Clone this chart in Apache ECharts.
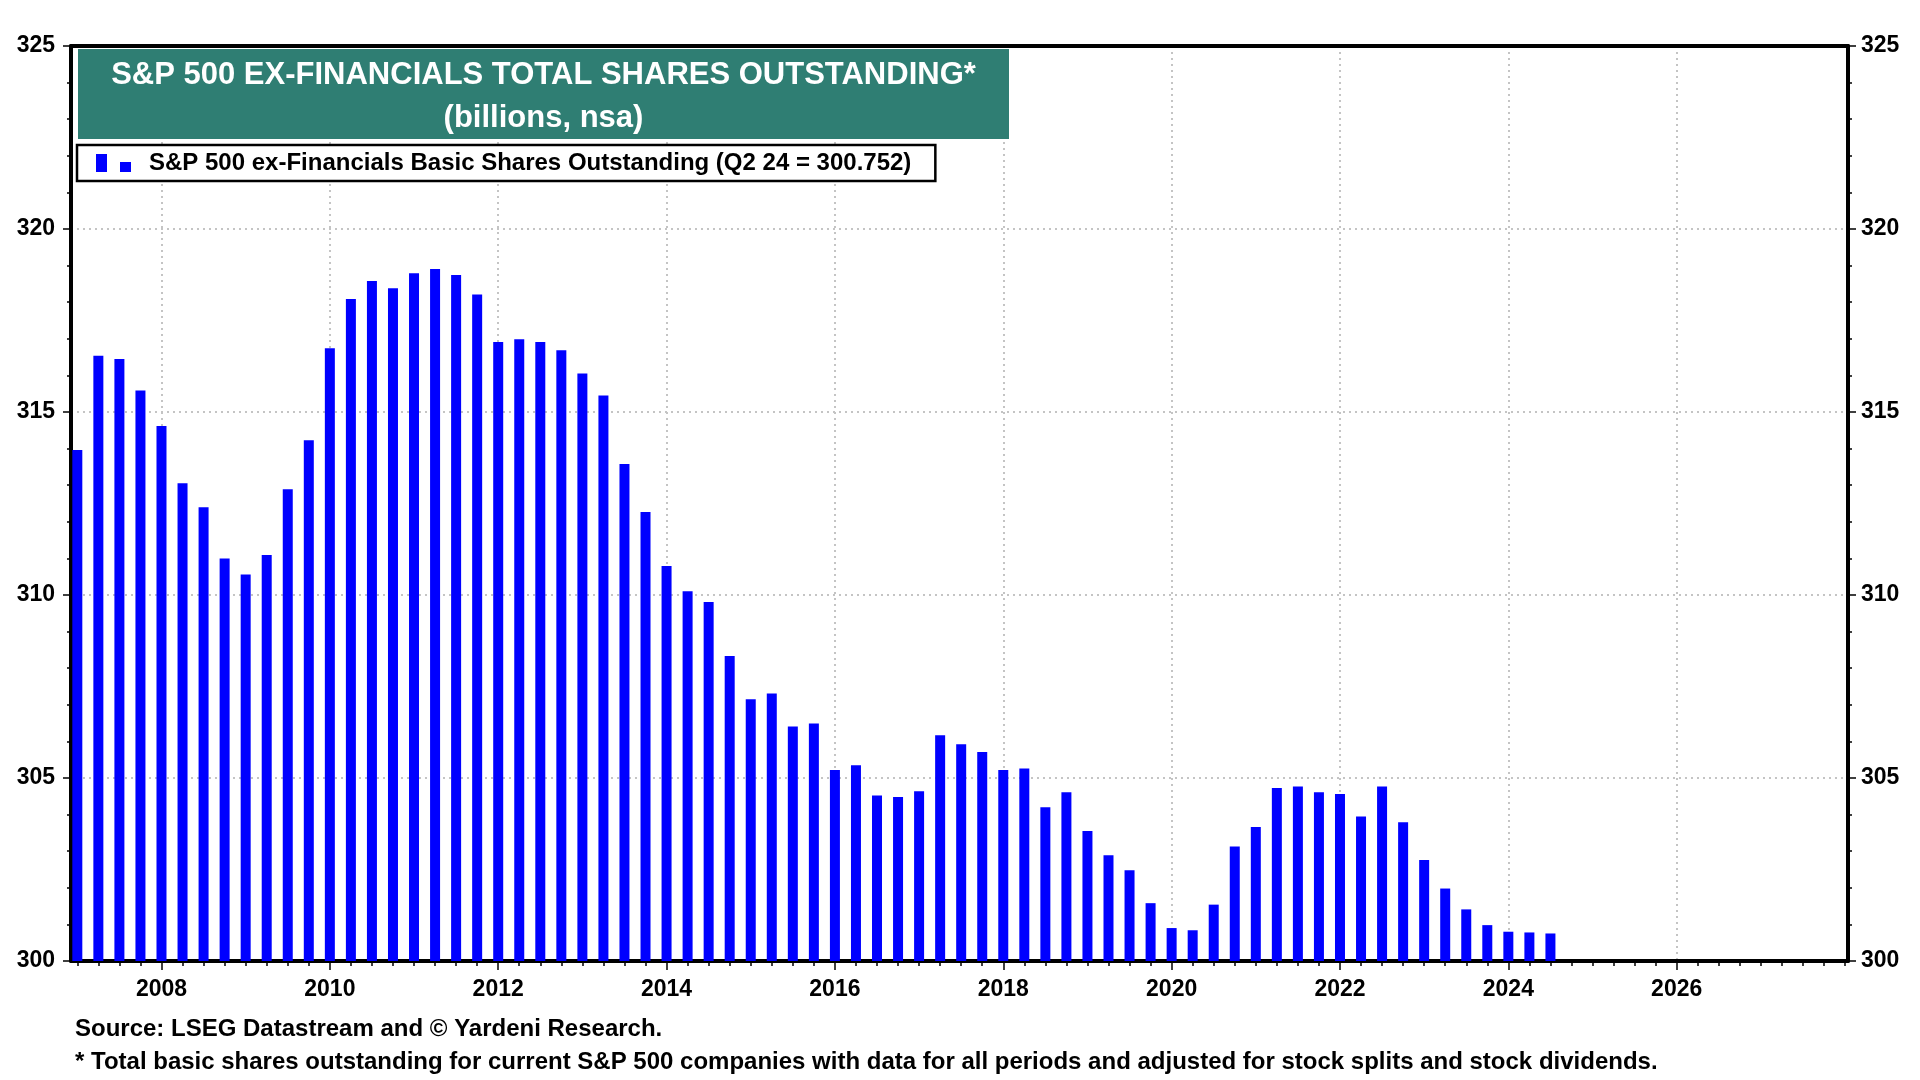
<!DOCTYPE html>
<html>
<head>
<meta charset="utf-8">
<script src="https://cdn.jsdelivr.net/npm/echarts@6/dist/echarts.min.js"></script>
<style>
html,body{margin:0;padding:0;background:#fff;}
#chart{width:1920px;height:1080px;}
</style>
</head>
<body>
<div id="chart"></div>
<script>
// ---- data (quarterly, plotted at quarter end) ----
const quarters = [
  'Q4 06',
  'Q1 07','Q2 07','Q3 07','Q4 07',
  'Q1 08','Q2 08','Q3 08','Q4 08',
  'Q1 09','Q2 09','Q3 09','Q4 09',
  'Q1 10','Q2 10','Q3 10','Q4 10',
  'Q1 11','Q2 11','Q3 11','Q4 11',
  'Q1 12','Q2 12','Q3 12','Q4 12',
  'Q1 13','Q2 13','Q3 13','Q4 13',
  'Q1 14','Q2 14','Q3 14','Q4 14',
  'Q1 15','Q2 15','Q3 15','Q4 15',
  'Q1 16','Q2 16','Q3 16','Q4 16',
  'Q1 17','Q2 17','Q3 17','Q4 17',
  'Q1 18','Q2 18','Q3 18','Q4 18',
  'Q1 19','Q2 19','Q3 19','Q4 19',
  'Q1 20','Q2 20','Q3 20','Q4 20',
  'Q1 21','Q2 21','Q3 21','Q4 21',
  'Q1 22','Q2 22','Q3 22','Q4 22',
  'Q1 23','Q2 23','Q3 23','Q4 23',
  'Q1 24','Q2 24'
];
const sharesOutstanding = [
  313.96,
  316.54, 316.45, 315.59, 314.62,
  313.05, 312.40, 311.00, 310.56,
  311.09, 312.89, 314.23, 316.74,
  318.09, 318.58, 318.38, 318.79,
  318.91, 318.74, 318.21, 316.91,
  316.99, 316.91, 316.69, 316.05,
  315.45, 313.58, 312.27, 310.79,
  310.10, 309.81, 308.33, 307.15,
  307.31, 306.41, 306.49, 305.22,
  305.35, 304.52, 304.48, 304.64,
  306.17, 305.92, 305.71, 305.22,
  305.26, 304.20, 304.61, 303.55,
  302.89, 302.48, 301.58, 300.90,
  300.84, 301.54, 303.13, 303.66,
  304.73, 304.77, 304.61, 304.56,
  303.95, 304.77, 303.79, 302.76,
  301.98, 301.41, 300.98, 300.80,
  300.78, 300.752
];
const yearLabels = [2008, 2010, 2012, 2014, 2016, 2018, 2020, 2022, 2024, 2026];

const seriesName = 'S&P 500 ex-Financials Basic Shares Outstanding (Q2 24 = 300.752)';
const titleText = 'S&P 500 EX-FINANCIALS TOTAL SHARES OUTSTANDING*';
const subtitleText = '(billions, nsa)';
const sourceText = 'Source: LSEG Datastream and \u00A9 Yardeni Research.';
const noteText = '* Total basic shares outstanding for current S&P 500 companies with data for all periods and adjusted for stock splits and stock dividends.';

// ---- helpers ----
function quarterToX(q) {
  const qn = parseInt(q.charAt(1), 10);
  const yr = 2000 + parseInt(q.slice(3), 10);
  return yr + qn / 4;
}
const X_MIN = 2006.925, X_MAX = 2028.035;
const quarterTicks = [];
for (let t = 2007; t <= 2028.0001; t += 0.25) quarterTicks.push(+t.toFixed(2));

const FONT = '"Liberation Sans", Arial, Helvetica, sans-serif';
const gridDot = { type: [2, 4], color: '#c4c4c4', width: 2 };
const AXW = 4;

const chart = echarts.init(document.getElementById('chart'), null, { renderer: 'canvas' });

const yAxisBase = {
  type: 'value', min: 300, max: 325, interval: 5,
  axisLine: { show: true, onZero: false, lineStyle: { color: '#000', width: AXW } },
  axisTick: { show: true, length: 8, lineStyle: { color: '#000', width: 1.5 } },
  minorTick: { show: true, splitNumber: 5, length: 4, lineStyle: { color: '#000', width: 1.5 } },
  minorSplitLine: { show: false }
};
const yLabel = { color: '#000', fontSize: 23, fontWeight: 'bold', fontFamily: FONT, formatter: v => String(v) };

const option = {
  backgroundColor: '#fff',
  animation: false,
  grid: { left: 71, right: 72, top: 46, bottom: 119, containLabel: false, outerBoundsMode: 'none',
    show: false },
  graphic: [
    { type: 'rect', z: 5, shape: { x: 78, y: 49, width: 931, height: 90 },
      style: { fill: '#2F7E73' } }
  ],
  title: [
    { text: titleText, subtext: subtitleText, left: 543.5, top: 60, textAlign: 'center',
      padding: 0, itemGap: 12, z: 10,
      textStyle: { color: '#fff', fontSize: 31, fontWeight: 'bold', fontFamily: FONT, lineHeight: 31 },
      subtextStyle: { color: '#fff', fontSize: 31, fontWeight: 'bold', fontFamily: FONT, lineHeight: 31 } },
    { text: sourceText, left: 75, top: 1017, padding: 0,
      textStyle: { color: '#000', fontSize: 24, fontWeight: 'bold', fontFamily: FONT, lineHeight: 24 } },
    { text: noteText, left: 75, top: 1050, padding: 0,
      textStyle: { color: '#000', fontSize: 24, fontWeight: 'bold', fontFamily: FONT, lineHeight: 24 } }
  ],
  legend: {
    show: true, left: 77, top: 145, orient: 'horizontal', selectedMode: false, z: 10,
    backgroundColor: '#fff', borderColor: '#000', borderWidth: 2.5,
    padding: [6, 24, 6, 19],
    itemWidth: 35, itemHeight: 18,
    icon: 'path://M0,0L11,0L11,18L0,18Z M24,8L35,8L35,18L24,18Z',
    textStyle: { color: '#000', fontSize: 24, fontWeight: 'bold', fontFamily: FONT, lineHeight: 24, padding: [0, 0, 0, 13] },
    data: [{ name: seriesName, itemStyle: { color: '#0000FF' } }]
  },
  xAxis: [
    { type: 'value', min: X_MIN, max: X_MAX, position: 'bottom',
      axisLine: { show: true, onZero: false, lineStyle: { color: '#000', width: AXW } },
      axisTick: { show: true, customValues: quarterTicks, length: 5, lineStyle: { color: '#000', width: 1.5 } },
      axisLabel: { show: false },
      splitLine: { show: false } },
    { type: 'value', min: X_MIN, max: X_MAX, position: 'bottom',
      axisLine: { show: false, onZero: false },
      axisTick: { show: true, customValues: yearLabels, length: 9, lineStyle: { color: '#000', width: 1.5 } },
      axisLabel: { show: true, customValues: yearLabels, color: '#000', fontSize: 23, fontWeight: 'bold',
        fontFamily: FONT, margin: 17, formatter: v => String(Math.round(v)) },
      splitLine: { show: true, lineStyle: gridDot } },
    { type: 'value', min: X_MIN, max: X_MAX, position: 'top',
      axisLine: { show: true, onZero: false, lineStyle: { color: '#000', width: AXW } },
      axisTick: { show: false }, axisLabel: { show: false }, splitLine: { show: false } }
  ],
  yAxis: [
    Object.assign({}, yAxisBase, { position: 'left',
      axisLabel: Object.assign({ margin: 16 }, yLabel),
      splitLine: { show: true, showMinLine: false, showMaxLine: false, lineStyle: gridDot } }),
    Object.assign({}, yAxisBase, { position: 'right',
      axisLabel: Object.assign({ margin: 13 }, yLabel),
      splitLine: { show: false } })
  ],
  series: [
    { name: seriesName, type: 'bar', xAxisIndex: 0, yAxisIndex: 0, barWidth: 10, clip: true,
      itemStyle: { color: '#0000FF' },
      data: quarters.map((q, i) => [quarterToX(q), sharesOutstanding[i]]) }
  ]
};
chart.setOption(option);
</script>
</body>
</html>
